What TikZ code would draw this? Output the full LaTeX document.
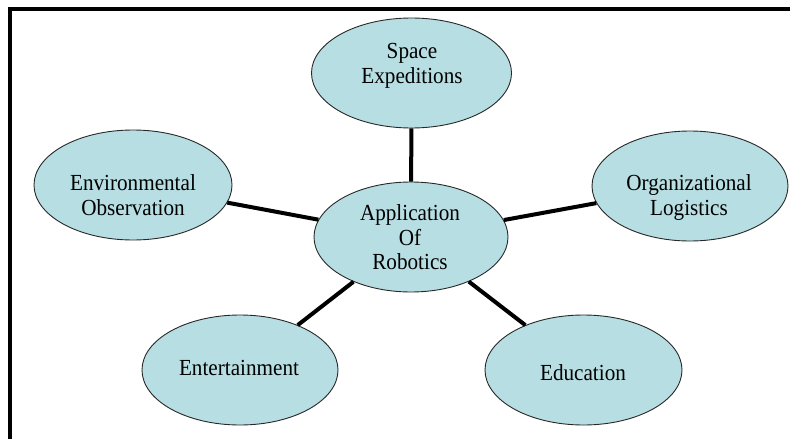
\documentclass[tikz,border=0pt]{standalone}
\usepackage{fontspec}
\setmainfont{Liberation Serif}[FakeStretch=0.92]
\usetikzlibrary{shapes.geometric}
\definecolor{bubblefill}{RGB}{183,222,226}
\definecolor{bubbleline}{RGB}{40,40,40}
\tikzset{
  bubble/.style={ellipse, draw=bubbleline, line width=0.9pt, fill=bubblefill,
                 inner sep=0pt, minimum width=#1, minimum height=110pt},
  bubble/.default=196pt,
  % anchor=base sits on the baseline of the last line
  caption/.style={align=center, anchor=base, inner sep=0pt,
                  font=\fontsize{23}{24.5}\selectfont},
  spoke/.style={line width=4pt, black},
  frame/.style={line width=4pt, black}
}
\begin{document}
\begin{tikzpicture}[x=1pt, y=-1pt]
\useasboundingbox (0,0) rectangle (790,439);

% outer frame (top and left edges)
\draw[frame] (10,441) -- (10,9) -- (792,9);

% ellipses
\node[bubble=194pt] (hub) at (411,237) {};
\node[bubble=200pt] (space) at (411.5,73) {};
\node[bubble=198pt] (env) at (133,185) {};
\node[bubble=196pt] (org) at (690,186) {};
\node[bubble=196pt] (ent) at (240,370) {};
\node[bubble=197pt] (edu) at (583.5,370) {};

% spokes from the hub
\draw[spoke] (hub) -- (space);
\draw[spoke] (hub) -- (env);
\draw[spoke] (hub) -- (org);
\draw[spoke] (hub) -- (ent);
\draw[spoke] (hub) -- (edu);

% captions
\node[caption] (hubtext) at (410,269.5) {Application\\Of\\Robotics};
\node[caption] (spacetext) at (412,83.3) {Space\\Expeditions};
\node[caption] (envtext) at (133,215) {Environmental\\Observation};
\node[caption] (orgtext) at (689,215) {Organizational\\Logistics};
\node[caption] (enttext) at (239,375) {Entertainment};
\node[caption] (edutext) at (583,380.7) {Education};
\end{tikzpicture}
\end{document}
